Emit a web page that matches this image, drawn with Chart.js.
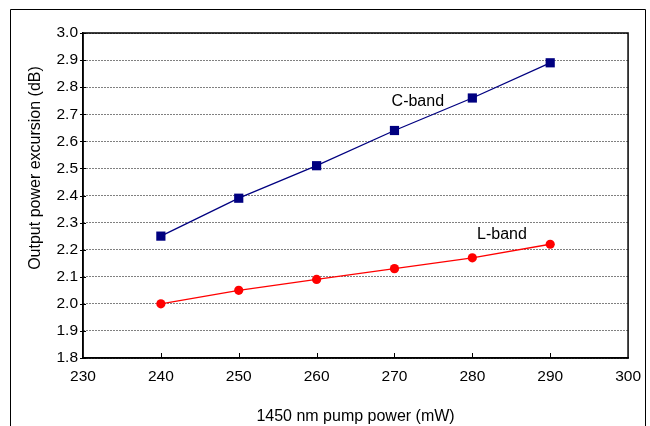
<!DOCTYPE html>
<html><head><meta charset="utf-8">
<script src="https://cdn.jsdelivr.net/npm/chart.js@4.4.0/dist/chart.umd.min.js"></script>
<style>html,body{margin:0;padding:0;background:#fff;}#wrap{position:relative;width:650px;height:426px;}</style>
</head><body><div id="wrap"><canvas id="c" width="650" height="426"></canvas></div>
<script>
const pumpPower = [240, 250, 260, 270, 280, 290];
const cBand = [2.25, 2.39, 2.51, 2.64, 2.76, 2.89];
const lBand = [2.00, 2.05, 2.09, 2.13, 2.17, 2.22];
const xTicks = [230, 240, 250, 260, 270, 280, 290, 300];
const yTicks = [1.8, 1.9, 2.0, 2.1, 2.2, 2.3, 2.4, 2.5, 2.6, 2.7, 2.8, 2.9, 3.0];
const seriesLabels = [
  {text: 'C-band', x: 273, y: 2.745},
  {text: 'L-band', x: 283.8, y: 2.255}
];
const yTitle = 'Output power excursion (dB)';
const FONT = '"Liberation Sans", Arial, sans-serif';

const framePlugin = {
  id: 'frame',
  beforeDraw(chart) {
    const ctx = chart.ctx;
    ctx.save();
    ctx.fillStyle = '#fff';
    ctx.fillRect(0, 0, chart.width, chart.height);
    ctx.strokeStyle = '#000';
    ctx.lineWidth = 1;
    ctx.beginPath();
    ctx.moveTo(10.5, 440);
    ctx.lineTo(10.5, 9.5);
    ctx.lineTo(645.5, 9.5);
    ctx.lineTo(645.5, 440);
    ctx.stroke();
    ctx.restore();
  },
  afterDatasetsDraw(chart) {
    const ctx = chart.ctx, a = chart.chartArea;
    const xs = chart.scales.x, ys = chart.scales.y;
    ctx.save();
    ctx.strokeStyle = '#000';
    ctx.lineWidth = 1.5;
    ctx.strokeRect(a.left, a.top, a.right - a.left, a.bottom - a.top);
    ctx.lineWidth = 1;
    ctx.beginPath();
    xTicks.slice(1, -1).forEach(v => {
      const px = Math.round(xs.getPixelForValue(v)) + 0.5;
      ctx.moveTo(px, a.bottom);
      ctx.lineTo(px, a.bottom - 5);
    });
    yTicks.forEach(v => {
      const py = Math.round(ys.getPixelForValue(v)) + 0.5;
      ctx.moveTo(a.left - 3, py);
      ctx.lineTo(a.left + 3, py);
    });
    ctx.stroke();
    ctx.fillStyle = '#000';
    ctx.font = '16px ' + FONT;
    ctx.textAlign = 'center';
    ctx.textBaseline = 'middle';
    seriesLabels.forEach(l => {
      ctx.fillText(l.text, xs.getPixelForValue(l.x), ys.getPixelForValue(l.y));
    });
    ctx.translate(36, 168);
    ctx.rotate(-Math.PI / 2);
    ctx.fillText(yTitle, 0, 0);
    ctx.restore();
  }
};

new Chart(document.getElementById('c'), {
  type: 'line',
  data: {
    datasets: [
      {
        label: 'C-band',
        data: pumpPower.map((x, i) => ({x, y: cBand[i]})),
        borderColor: '#000080',
        backgroundColor: '#000080',
        borderWidth: 1.3,
        pointStyle: 'rect',
        pointRadius: 6.5,
        pointBorderWidth: 0,
        tension: 0
      },
      {
        label: 'L-band',
        data: pumpPower.map((x, i) => ({x, y: lBand[i]})),
        borderColor: '#ff0000',
        backgroundColor: '#ff0000',
        borderWidth: 1.3,
        pointStyle: 'circle',
        pointRadius: 4.6,
        pointBorderWidth: 0,
        tension: 0
      }
    ]
  },
  options: {
    responsive: false,
    animation: false,
    layout: {padding: {top: 33, right: 20, left: 0, bottom: 0}},
    plugins: {legend: {display: false}, tooltip: {enabled: false}},
    scales: {
      x: {
        type: 'linear',
        min: 230, max: 300,
        afterBuildTicks(s) { s.ticks = xTicks.map(v => ({value: v})); },
        afterFit(s) { s.height = 426 - 358; },
        grid: {display: false, drawTicks: false},
        border: {display: true, color: '#000', width: 1.5},
        ticks: {color: '#000', font: {family: FONT, size: 15.5}, padding: 9, maxRotation: 0},
        title: {display: true, text: '1450 nm pump power (mW)', color: '#000', font: {family: FONT, size: 16}, padding: {top: 7, bottom: 0}}
      },
      y: {
        min: 1.8, max: 3.0,
        afterBuildTicks(s) { s.ticks = yTicks.map(v => ({value: v})); },
        afterFit(s) { s.width = 83; },
        grid: {color: '#000', lineWidth: 1, drawTicks: false},
        border: {display: true, color: '#000', width: 1.5, dash: [1, 2]},
        ticks: {color: '#000', font: {family: FONT, size: 15.5}, padding: 5, callback: v => Number(v).toFixed(1)}
      }
    }
  },
  plugins: [framePlugin]
});
</script></body></html>
